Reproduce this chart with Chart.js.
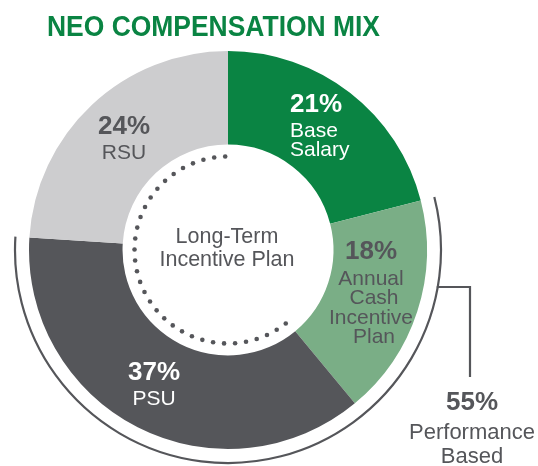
<!DOCTYPE html>
<html>
<head>
<meta charset="utf-8">
<script src="https://cdn.jsdelivr.net/npm/chart.js@4.4.1/dist/chart.umd.min.js"></script>
<style>
  html, body { margin: 0; padding: 0; background: #fff; }
  canvas { display: block; }
</style>
</head>
<body>
<canvas id="mix" width="538" height="466"></canvas>
<script>
/* NEO compensation mix, drawn as a doughnut */

const categories = ["Base Salary", "Annual Cash Incentive Plan", "PSU", "RSU"];
const shares     = [21, 18, 37, 24];
const colors     = ["#0a8443", "#7aae86", "#55565a", "#cdcdcf"];
const labelLines = [["Base", "Salary"], ["Annual", "Cash", "Incentive", "Plan"], ["PSU"], ["RSU"]];
const performanceBased = [1, 2];          // Annual cash + PSU
const longTermIncentive = [2, 3];         // PSU + RSU
const centerLines = ["Long-Term", "Incentive Plan"];
const bracketLines = ["Performance", "Based"];

const GRAY = "#55565a";
const SANS = "'Liberation Sans', Arial, sans-serif";

// label placement relative to the chart centre (style only)
const labelPos = [
  { dx: 62,   dy: -145, align: "left" },
  { dx: 143,  dy: 2,    align: "center" },
  { dx: -74,  dy: 123,  align: "center" },
  { dx: -104, dy: -123, align: "center" },
];
const labelColor = ["#fff", GRAY, "#fff", GRAY];

const decor = {
  id: "decor",
  afterDatasetsDraw(chart) {
    const ctx = chart.ctx;
    const arcs = chart.getDatasetMeta(0).data;
    const cx = arcs[0].x, cy = arcs[0].y;
    const outer = arcs[0].outerRadius, inner = arcs[0].innerRadius;
    ctx.save();

    // title, squeezed to the condensed width of the original
    const title = "NEO COMPENSATION MIX";
    ctx.fillStyle = colors[0];
    ctx.font = "bold 29px " + SANS;
    ctx.textAlign = "left";
    ctx.textBaseline = "alphabetic";
    const tw = ctx.measureText(title).width;
    ctx.save();
    ctx.translate(47, 36);
    ctx.scale(333 / tw, 1);
    ctx.fillText(title, 0, 0);
    ctx.restore();

    // dotted ring around long-term incentive part
    const a0 = arcs[longTermIncentive[0]].startAngle + 0.025;
    const a1 = arcs[longTermIncentive[1]].endAngle - 0.03;
    const rd = inner - 12;
    const n = Math.round((a1 - a0) * rd / 11);
    ctx.fillStyle = GRAY;
    for (let i = 0; i <= n; i++) {
      const a = a0 + (a1 - a0) * i / n;
      ctx.beginPath();
      ctx.arc(cx + rd * Math.cos(a), cy + rd * Math.sin(a), 2.3, 0, Math.PI * 2);
      ctx.fill();
    }

    // bracket round the performance-based slices
    const rb = outer + 14;
    const b0 = arcs[performanceBased[0]].startAngle;
    const b1 = arcs[performanceBased[1]].endAngle;
    ctx.strokeStyle = GRAY;
    ctx.lineWidth = 2.2;
    ctx.beginPath();
    ctx.arc(cx, cy, rb, b0, b1);
    ctx.stroke();
    const yc = cy + 37;
    const xc = cx + Math.sqrt(rb * rb - 37 * 37);
    ctx.beginPath();
    ctx.moveTo(xc - 1, yc);
    ctx.lineTo(cx + 242, yc);
    ctx.lineTo(cx + 242, cy + 127);
    ctx.stroke();

    // slice labels
    shares.forEach((v, i) => {
      const p = labelPos[i];
      const x = cx + p.dx, y = cy + p.dy;
      ctx.fillStyle = labelColor[i];
      ctx.textAlign = p.align;
      ctx.textBaseline = "middle";
      ctx.font = "bold 26px " + SANS;
      ctx.fillText(v + "%", x, y);
      ctx.font = "21px " + SANS;
      const first = i === 1 ? 27 : 26;
      labelLines[i].forEach((t, k) => ctx.fillText(t, x + (i === 1 && k % 2 ? 3 : 0), y + first + k * 19.5));
    });

    // centre text
    ctx.fillStyle = GRAY;
    ctx.textAlign = "center";
    ctx.font = "21.5px " + SANS;
    centerLines.forEach((t, k) => ctx.fillText(t, cx - 1, cy - 13 + k * 23));

    // performance based total
    const perf = performanceBased.reduce((s, i) => s + shares[i], 0);
    ctx.font = "bold 26px " + SANS;
    ctx.fillText(perf + "%", cx + 244, cy + 153);
    ctx.font = "22px " + SANS;
    bracketLines.forEach((t, k) => ctx.fillText(t, cx + 244, cy + 183 + k * 24));

    ctx.restore();
  }
};

new Chart(document.getElementById("mix"), {
  type: "doughnut",
  data: {
    labels: categories,
    datasets: [{
      data: shares,
      backgroundColor: colors,
      borderWidth: 0,
    }]
  },
  options: {
    responsive: false,
    animation: false,
    cutout: "53%",
    layout: { padding: { left: 29, right: 111, top: 51, bottom: 17 } },
    plugins: { legend: { display: false }, tooltip: { enabled: false } }
  },
  plugins: [decor]
});
</script>
</body>
</html>
